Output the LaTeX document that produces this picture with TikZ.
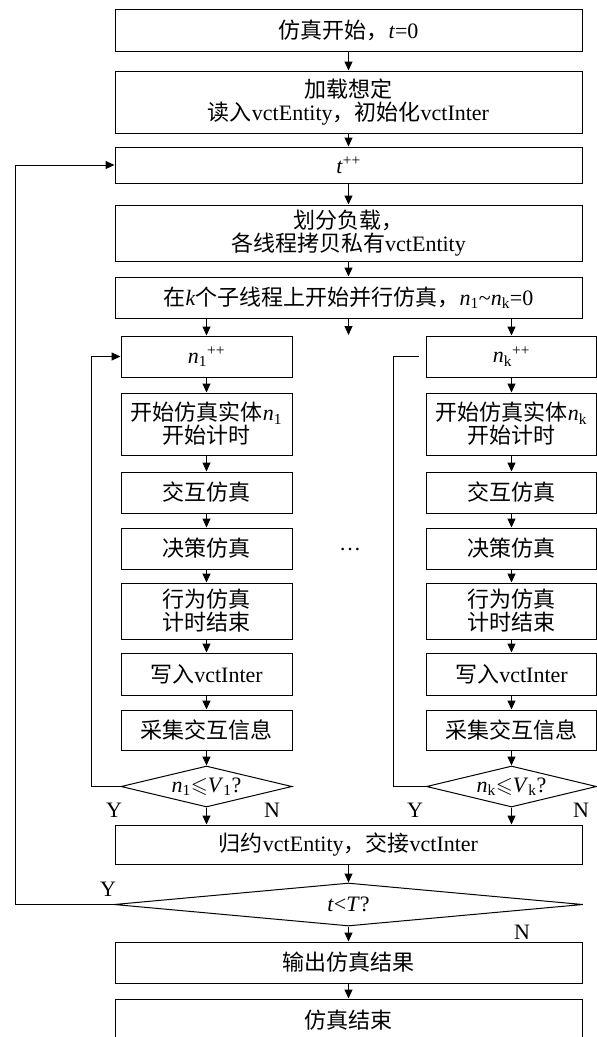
\documentclass[tikz,border=0pt]{standalone}
\usepackage{amssymb}
\usepackage{fontspec}
\setmainfont{Liberation Serif}
\newfontfamily\cjk{Noto Sans CJK SC}
\newcommand{\zh}[1]{{\cjk #1}}
\usetikzlibrary{arrows.meta,shapes.geometric}
\begin{document}
\begin{tikzpicture}[x=1pt,y=-1pt,
  every node/.style={font=\fontsize{22}{26}\selectfont},
  box/.style={draw,line width=1pt,rectangle,inner sep=0pt,align=center},
  mainbox/.style={box,minimum width=467pt},
  colbox/.style={box,minimum width=171pt},
  dia/.style={draw,line width=1pt,diamond,inner sep=0pt,aspect=4},
  arr/.style={line width=1pt,-{Triangle[length=9pt,width=8pt]}},
  ln/.style={line width=1pt},
  lbl/.style={inner sep=0pt}]
\useasboundingbox (0,0) rectangle (597,1037);
% main column
\node[mainbox,minimum height=42pt] (b1) at (348.5,30) {\zh{仿真开始，}\textit{t}=0};
\node[mainbox,minimum height=62pt] (b2) at (348.5,102) {\zh{加载想定}\\[-3pt]\zh{读入}vctEntity\zh{，初始化}vctInter};
\node[mainbox,minimum height=36pt] (b3) at (348.5,165) {\textit{t}\textsuperscript{++}};
\node[mainbox,minimum height=56pt] (b4) at (348.5,233) {\zh{划分负载，}\\[-3pt]\zh{各线程拷贝私有}vctEntity};
\node[mainbox,minimum height=41pt] (b5) at (348.5,297.5) {\zh{在}\textit{k}\zh{个子线程上开始并行仿真，}\textit{n}\textsubscript{1}\textasciitilde\textit{n}\textsubscript{k}=0};
\coordinate (mid) at (348.5,335);
% left column
\node[colbox,minimum height=41pt] (l1) at (206.5,356.5) {\textit{n}\textsubscript{1}\textsuperscript{++}};
\node[colbox,minimum height=62pt] (l2) at (206.5,424) {\zh{开始仿真实体}\textit{n}\textsubscript{1}\\[-3pt]\zh{开始计时}};
\node[colbox,minimum height=41pt] (l3) at (206.5,492.5) {\zh{交互仿真}};
\node[colbox,minimum height=41pt] (l4) at (206.5,548.5) {\zh{决策仿真}};
\node[colbox,minimum height=56pt] (l5) at (206.5,611) {\zh{行为仿真}\\[-3pt]\zh{计时结束}};
\node[colbox,minimum height=42pt] (l6) at (206.5,674) {\zh{写入}vctInter};
\node[colbox,minimum height=40pt] (l7) at (206.5,730) {\zh{采集交互信息}};
\node[dia,minimum width=171pt,minimum height=41pt] (ld) at (206.5,786.5) {\textit{n}\textsubscript{1}$\leqslant$\textit{V}\textsubscript{1}?};
% right column
\node[colbox,minimum width=170pt,minimum height=41pt] (r1) at (511.5,356.5) {\textit{n}\textsubscript{k}\textsuperscript{++}};
\node[colbox,minimum width=170pt,minimum height=62pt] (r2) at (511.5,424) {\zh{开始仿真实体}\textit{n}\textsubscript{k}\\[-3pt]\zh{开始计时}};
\node[colbox,minimum width=170pt,minimum height=41pt] (r3) at (511.5,492.5) {\zh{交互仿真}};
\node[colbox,minimum width=170pt,minimum height=41pt] (r4) at (511.5,548.5) {\zh{决策仿真}};
\node[colbox,minimum width=170pt,minimum height=56pt] (r5) at (511.5,611) {\zh{行为仿真}\\[-3pt]\zh{计时结束}};
\node[colbox,minimum width=170pt,minimum height=42pt] (r6) at (511.5,674) {\zh{写入}vctInter};
\node[colbox,minimum width=170pt,minimum height=40pt] (r7) at (511.5,730) {\zh{采集交互信息}};
\node[dia,minimum width=170pt,minimum height=41pt] (rd) at (511.5,786.5) {\textit{n}\textsubscript{k}$\leqslant$\textit{V}\textsubscript{k}?};
\node[lbl] (dots) at (350,550) {\dots};
% bottom
\node[mainbox,minimum height=39pt] (b6) at (348.5,844.5) {\zh{归约}vctEntity\zh{，交接}vctInter};
\node[dia,minimum width=469pt,minimum height=43pt,aspect=10] (td) at (348.5,904.5) {\textit{t}<\textit{T}?};
\node[mainbox,minimum height=41pt] (b7) at (348.5,962.5) {\zh{输出仿真结果}};
\node[mainbox,minimum height=42pt] (b8) at (348.5,1020) {\zh{仿真结束}};
% labels
\node[lbl] (ly) at (114,810) {Y};
\node[lbl] (ln) at (272,810) {N};
\node[lbl] (ry) at (415,810) {Y};
\node[lbl] (rn) at (581,810) {N};
\node[lbl] (ty) at (108,889) {Y};
\node[lbl] (tn) at (522,932) {N};
% connectors
\draw[arr] (b1) -- (b2);
\draw[arr] (b2) -- (b3);
\draw[arr] (b3) -- (b4);
\draw[arr] (b4) -- (b5);
\draw[arr] (b5.south -| l1) -- (l1.north);
\draw[arr] (b5.south) -- (mid);
\draw[arr] (b5.south -| r1) -- (r1.north);
\draw[arr] (l1) -- (l2);
\draw[arr] (l2) -- (l3);
\draw[arr] (l3) -- (l4);
\draw[arr] (l4) -- (l5);
\draw[arr] (l5) -- (l6);
\draw[arr] (l6) -- (l7);
\draw[arr] (l7) -- (ld);
\draw[arr] (r1) -- (r2);
\draw[arr] (r2) -- (r3);
\draw[arr] (r3) -- (r4);
\draw[arr] (r4) -- (r5);
\draw[arr] (r5) -- (r6);
\draw[arr] (r6) -- (r7);
\draw[arr] (r7) -- (rd);
\draw[arr] (ld.south) -- (ld.south |- b6.north);
\draw[arr] (rd.south) -- (rd.south |- b6.north);
\draw[arr] (b6) -- (td);
\draw[arr] (td) -- (b7);
\draw[arr] (b7) -- (b8);
% loops
\coordinate (lloop) at (91,786.5);
\draw[arr] (ld.west) -- (lloop) |- (l1.west);
\coordinate (rloop) at (393,786.5);
\coordinate (rend) at (419,356.5);
\draw[ln] (rd.west) -- (rloop) |- (rend);
\coordinate (tloop) at (15,904.5);
\draw[arr] (td.west) -- (tloop) |- (b3.west);
\end{tikzpicture}
\end{document}
